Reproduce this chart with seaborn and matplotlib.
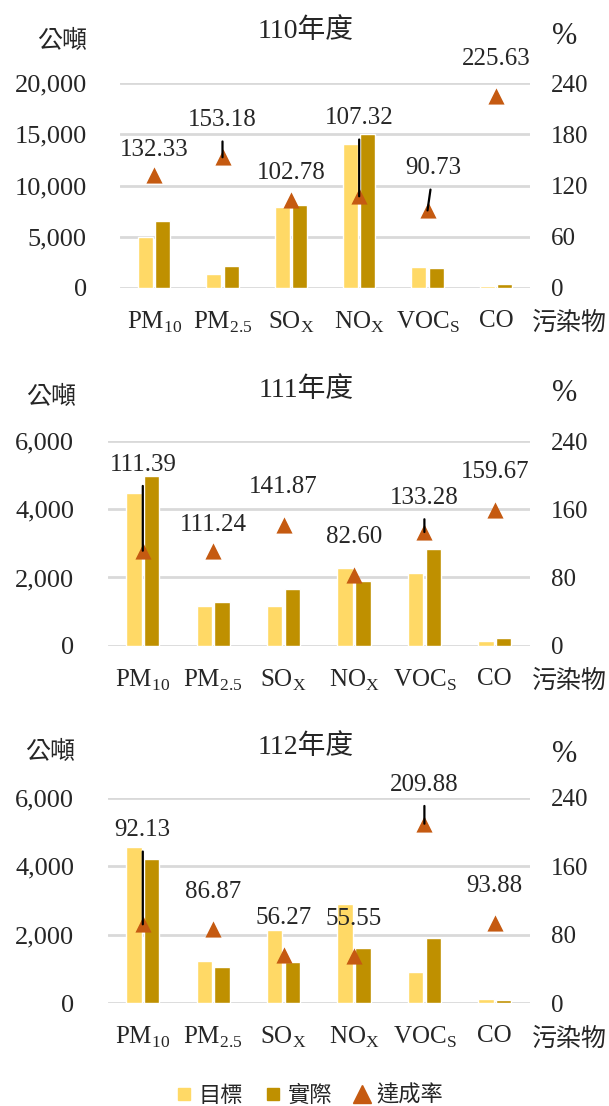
import numpy as np
import pandas as pd
import matplotlib
matplotlib.use("Agg")
import matplotlib.pyplot as plt
import seaborn as sns
from matplotlib.lines import Line2D

# ---------------- data ----------------
pollutants = ["PM10", "PM2.5", "SOx", "NOx", "VOCs", "CO"]
tick_labels = [r"PM$_{\mathregular{10}}$", r"PM$_{\mathregular{2.5}}$", r"SO$_{\mathregular{X}}$",
               r"NO$_{\mathregular{X}}$", r"VOC$_{\mathregular{S}}$", "CO"]
years = ["110年度", "111年度", "112年度"]

target_110 = [4930, 1385, 7870, 14060, 2070, 146]
actual_110 = [6520, 2120, 8090, 15070, 1880, 330]
rate_110 = [132.33, 153.18, 102.78, 107.32, 90.73, 225.63]

target_111 = [4480, 1155, 1165, 2280, 2120, 147]
actual_111 = [4985, 1285, 1653, 1883, 2826, 235]
rate_111 = [111.39, 111.24, 141.87, 82.60, 133.28, 159.67]

target_112 = [4575, 1220, 2130, 2900, 907, 107]
actual_112 = [4215, 1060, 1199, 1611, 1904, 100]
rate_112 = [92.13, 86.87, 56.27, 55.55, 209.88, 93.88]

series_names = ["目標", "實際", "達成率"]

# ---------------- style ----------------
sns.set_theme(style="white")
plt.rcParams["font.family"] = ["Liberation Serif", "Noto Sans CJK TC", "DejaVu Sans"]
plt.rcParams["mathtext.fontset"] = "custom"
plt.rcParams["mathtext.rm"] = "Liberation Serif"

C_T = "#FFD966"
C_A = "#BF9000"
C_R = "#C55A11"
C_GRID = "#D9D9D9"

W, H = 609, 1106
fig = plt.figure(figsize=(W / 100, H / 100), dpi=100)


def rect(x0, y_top, x1, y_bot):
    return [x0 / W, 1 - y_bot / H, (x1 - x0) / W, (y_bot - y_top) / H]


panels = [
    dict(target=target_110, actual=actual_110, rate=rate_110, year=years[0],
         rect=rect(120, 83.3, 530, 287.7), ymax=20000, lstep=5000, rstep=60,
         title_y=31, unit_y=42, unit_x=62, pct_y=36,
         offs=[(0, 25), (0, 37), (0, 27), (0, 78), (6, 42), (0, 37)],
         lead=[False, True, False, True, True, False]),
    dict(target=target_111, actual=actual_111, rate=rate_111, year=years[1],
         rect=rect(107.6, 441, 530, 645.7), ymax=6000, lstep=2000, rstep=80,
         title_y=390, unit_y=398, unit_x=51, pct_y=394,
         offs=[(0, 86), (0, 26), (0, 38), (0, 38), (0, 34), (0, 38)],
         lead=[True, False, False, False, True, False]),
    dict(target=target_112, actual=actual_112, rate=rate_112, year=years[2],
         rect=rect(107.6, 798, 530, 1003), ymax=6000, lstep=2000, rstep=80,
         title_y=747, unit_y=753, unit_x=50, pct_y=755,
         offs=[(0, 94), (0, 37), (0, 37), (0, 37), (0, 39), (0, 37)],
         lead=[True, False, False, False, True, False]),
]

for p in panels:
    ax = fig.add_axes(p["rect"])
    df = pd.DataFrame({
        "污染物": pollutants * 2,
        "排放量": p["target"] + p["actual"],
        "類別": [series_names[0]] * 6 + [series_names[1]] * 6,
    })
    sns.barplot(data=df, x="污染物", y="排放量", hue="類別", palette=[C_T, C_A],
                width=0.51, gap=0.14, saturation=1, legend=False, ax=ax, zorder=2)
    ax.set_xlim(-0.5, 5.5)
    ax.set_ylim(0, p["ymax"])
    yt = np.arange(0, p["ymax"] + 1, p["lstep"])
    ax.set_yticks(yt)
    ax.set_yticklabels([f"{int(v):,}" for v in yt], fontsize=19)
    ax.set_xticks(range(6))
    ax.set_xticklabels(tick_labels, fontsize=18)
    ax.set_xlabel("")
    ax.set_ylabel("")
    ax.yaxis.grid(True, color=C_GRID, lw=2)
    ax.xaxis.grid(False)
    ax.set_axisbelow(True)
    for s in ax.spines.values():
        s.set_visible(False)
    ax.tick_params(axis="y", length=0, pad=24)
    ax.tick_params(axis="x", length=0, pad=16)

    ax2 = ax.twinx()
    ax2.set_ylim(0, 240)
    rt = np.arange(0, 241, p["rstep"])
    ax2.set_yticks(rt)
    ax2.set_yticklabels([str(v) for v in rt], fontsize=18)
    ax2.tick_params(axis="y", length=0, pad=15)
    ax2.grid(False)
    for s in ax2.spines.values():
        s.set_visible(False)
    sns.scatterplot(x=np.arange(6), y=p["rate"], marker="^", s=135, color=C_R,
                    linewidth=0, ax=ax2, legend=False, clip_on=False, zorder=3)
    ax2.set_ylabel("")
    for i, r in enumerate(p["rate"]):
        dx, dy = p["offs"][i]
        ap = dict(arrowstyle="-", color="black", lw=1.6, shrinkA=5, shrinkB=0) if p["lead"][i] else None
        ax2.annotate(f"{r:.2f}", xy=(i, r), xytext=(dx, dy), textcoords="offset pixels",
                     ha="center", va="center", fontsize=18, annotation_clip=False,
                     arrowprops=ap, zorder=4)

    fig.text(306 / W, 1 - p["title_y"] / H, p["year"], ha="center", va="center", fontsize=20)
    fig.text(p["unit_x"] / W, 1 - p["unit_y"] / H, "公噸", ha="center", va="center", fontsize=18)
    fig.text(565 / W, 1 - p["pct_y"] / H, "%", ha="center", va="center", fontsize=22)
    bottom_px = H - p["rect"][1] * H
    fig.text(569 / W, 1 - (bottom_px + 36) / H, "污染物", ha="center", va="center", fontsize=18)

handles = [
    Line2D([], [], marker="s", ls="", color=C_T, markersize=9),
    Line2D([], [], marker="s", ls="", color=C_A, markersize=9),
    Line2D([], [], marker="^", ls="", color=C_R, markersize=13),
]
fig.legend(handles, series_names, loc="center", bbox_to_anchor=(310 / W, 1 - 1096 / H),
           ncol=3, frameon=False, fontsize=16, handlelength=0.7, handletextpad=0.3,
           columnspacing=1.0)

fig.savefig("out.png", dpi=100)
